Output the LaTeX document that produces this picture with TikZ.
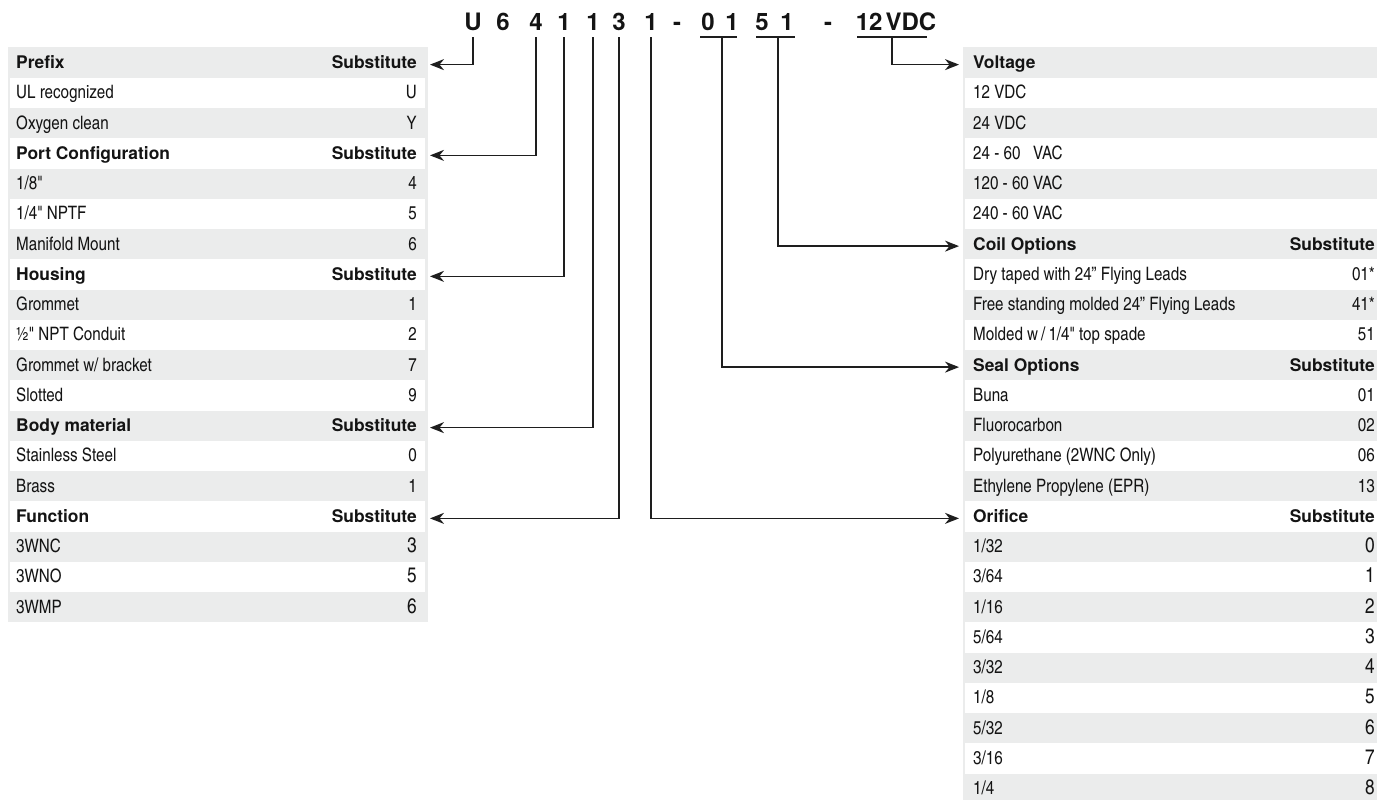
\documentclass[tikz,border=0pt]{standalone}
\usepackage{fontspec}
\setmainfont{TeX Gyre Heros}
\newfontfamily\cnfont{TeX Gyre Heros Cn}
\usetikzlibrary{arrows.meta}

\definecolor{rowgray}{RGB}{235,236,236}
\definecolor{linegray}{RGB}{30,30,30}

\newcommand{\hd}{\normalfont\fontsize{17.4}{20}\selectfont\bfseries}
\newcommand{\bigv}{\fontsize{21}{24}\selectfont}

\tikzset{
  rowL/.style={minimum width=420pt, minimum height=30.25pt, inner sep=0pt, outer sep=0pt},
  rowR/.style={minimum width=423pt, minimum height=30.25pt, inner sep=0pt, outer sep=0pt},
  celltext/.style={inner sep=0pt, text=black!92, font=\cnfont\fontsize{18.5}{21}\selectfont},
  codechar/.style={inner xsep=0pt, inner ysep=6pt, text depth=0pt, anchor=base,
    text=black!92, font=\fontsize{24}{28}\selectfont\bfseries},
  uline/.style={draw=linegray, line width=1.5pt},
  conn/.style={draw=linegray, line width=1.5pt, -{Stealth[length=14pt, width=11pt, inset=4.5pt]}},
}

\begin{document}
\begin{tikzpicture}[x=1pt, y=-1pt]

  \path[use as bounding box, clip] (0,0) rectangle (1377,800);

  % left table
  \fill[rowgray] (8,47.5) rectangle (428,622.25);
  \foreach \lt/\rt [count=\i] in {
      {\hd Prefix}/{\hd Substitute},
      UL recognized/U,
      Oxygen clean/Y,
      {\hd Port Configuration}/{\hd Substitute},
      {1/8"}/4,
      {1/4" NPTF}/5,
      Manifold Mount/6,
      {\hd Housing}/{\hd Substitute},
      Grommet/1,
      {½" NPT Conduit}/2,
      {Grommet w/ bracket}/7,
      Slotted/9,
      {\hd Body material}/{\hd Substitute},
      Stainless Steel/0,
      Brass/1,
      {\hd Function}/{\hd Substitute},
      3WNC/{\bigv 3},
      3WNO/{\bigv 5},
      3WMP/{\bigv 6}} {
    \node[rowL] (L\i) at (218, {47.5+(\i-0.5)*30.25}) {};
    \ifodd\i\else
      \fill[white] ([xshift=2pt]L\i.north west) rectangle ([xshift=-3pt]L\i.south east);
    \fi
    \node[celltext, anchor=base west] at ([xshift=8pt, yshift=-6pt]L\i.west) {\lt};
    \node[celltext, anchor=base east] at ([xshift=-11pt, yshift=-6pt]L\i.east) {\rt};
  }

  % right table
  \fill[rowgray] (963,47.5) rectangle (1386,803.75);
  \foreach \lt/\rt [count=\i] in {
      {\hd Voltage}/{},
      12 VDC/{},
      24 VDC/{},
      {24 - 60\ \ \ VAC}/{},
      120 - 60 VAC/{},
      240 - 60 VAC/{},
      {\hd Coil Options}/{\hd Substitute},
      {Dry taped with 24” Flying Leads}/01*,
      {Free standing molded 24” Flying Leads}/41*,
      {Molded w\,/\,1/4" top spade}/51,
      {\hd Seal Options}/{\hd Substitute},
      Buna/01,
      Fluorocarbon/02,
      {Polyurethane (2WNC Only)}/06,
      {Ethylene Propylene (EPR)}/13,
      {\hd Orifice}/{\hd Substitute},
      {1/32}/{\bigv 0},
      {3/64}/{\bigv 1},
      {1/16}/{\bigv 2},
      {5/64}/{\bigv 3},
      {3/32}/{\bigv 4},
      {1/8}/{\bigv 5},
      {5/32}/{\bigv 6},
      {3/16}/{\bigv 7},
      {1/4}/{\bigv 8}} {
    \node[rowR] (R\i) at (1174.5, {47.5+(\i-0.5)*30.25}) {};
    \ifodd\i\else
      \fill[white] ([xshift=2pt]R\i.north west) rectangle ([xshift=-3pt]R\i.south east);
    \fi
    \node[celltext, anchor=base west] at ([xshift=10pt, yshift=-6pt]R\i.west) {\lt};
    \node[celltext, anchor=base east] at ([xshift=-11pt, yshift=-6pt]R\i.east) {\rt};
  }

  % part number
  \foreach \ch/\xp [count=\k] in {U/473, 6/503, 4/536, 1/564, 1/593, 3/619, 1/651,
                                  -/677, 0/708, 1/732, 5/762, 1/787, -/828} {
    \node[codechar] (k\k) at (\xp,31) {\ch};
  }
  \node[codechar] (kv) at (896,31) {12\kern3pt VDC};

  \draw[uline] (700,37) -- (737,37);
  \draw[uline] (756,37) -- (795,37);
  \draw[uline] (857,37) -- (927,37);

  \coordinate (u01)  at (722,37);
  \coordinate (u51)  at (778,37);
  \coordinate (uvdc) at (892,37);

  \draw[conn, shorten >=2pt] (k1.south) |- ([yshift=-2pt]L1.east);
  \draw[conn, shorten >=2pt] (k3.south) |- ([yshift=-2pt]L4.east);
  \draw[conn, shorten >=2pt] (k4.south) |- ([yshift=-2pt]L8.east);
  \draw[conn, shorten >=2pt] (k5.south) |- ([yshift=-2pt]L13.east);
  \draw[conn, shorten >=2pt] (k6.south) |- ([yshift=-2pt]L16.east);

  \draw[conn, shorten >=4pt] (k7.south) |- ([yshift=-2pt]R16.west);
  \draw[conn, shorten >=4pt] (u01)      |- ([yshift=-2pt]R11.west);
  \draw[conn, shorten >=4pt] (u51)      |- ([yshift=-2pt]R7.west);
  \draw[conn, shorten >=4pt] (uvdc)     |- ([yshift=-2pt]R1.west);

\end{tikzpicture}
\end{document}
